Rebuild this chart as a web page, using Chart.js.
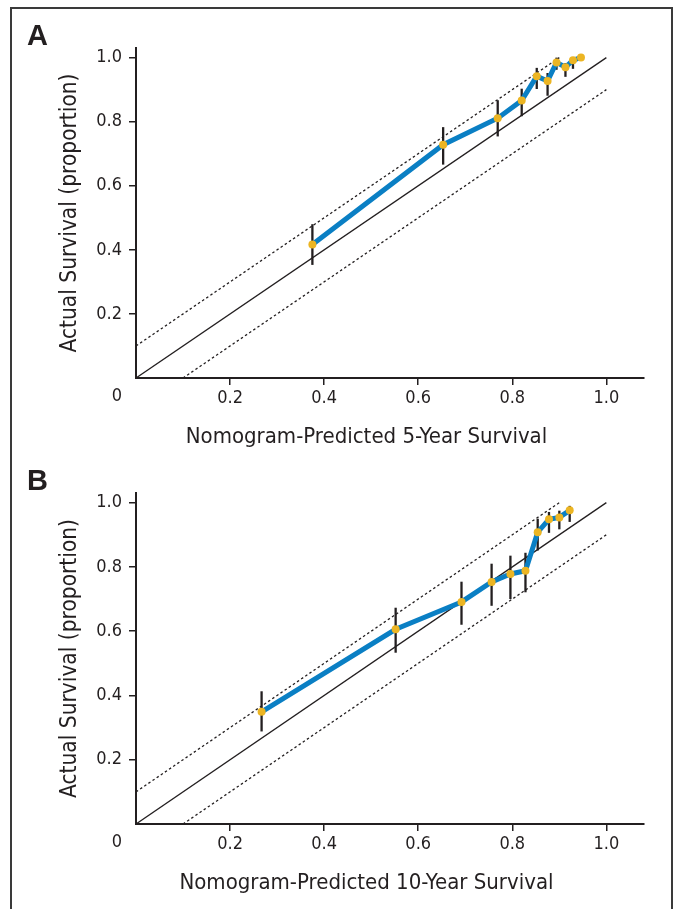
<!DOCTYPE html>
<html>
<head>
<meta charset="utf-8">
<script src="https://cdn.jsdelivr.net/npm/chart.js@4.4.1/dist/chart.umd.min.js"></script>
<style>
  html, body { margin: 0; padding: 0; background: #fff; }
  #wrap { position: relative; width: 679px; height: 909px; overflow: hidden; }
  #wrap canvas { position: absolute; left: 0; top: 0; }
  #frame { position: absolute; left: 10px; top: 7px; width: 663px; height: 940px;
           border: 2px solid #3a3a3a; box-sizing: border-box; }
</style>
</head>
<body>
<div id="wrap">
  <div id="frame"></div>
  <canvas id="chartA" width="679" height="909"></canvas>
  <canvas id="chartB" width="679" height="909"></canvas>
</div>
<script>
// ---- data ----
const xTicks = [0.2, 0.4, 0.6, 0.8, 1.0];
const yTicks = [0.2, 0.4, 0.6, 0.8, 1.0];

// panel A: 5-year
const predA   = [0.375, 0.653, 0.769, 0.820, 0.852, 0.875, 0.894, 0.913, 0.929, 0.946];
const actualA = [0.417, 0.728, 0.811, 0.866, 0.942, 0.927, 0.985, 0.970, 0.992, 1.000];
const lowerA  = [0.353, 0.666, 0.754, 0.817, 0.902, 0.881, 0.962, 0.940, 0.965, 1.000];
const upperA  = [0.480, 0.783, 0.867, 0.903, 0.968, 0.952, 1.000, 0.983, 1.000, 1.000];

// panel B: 10-year
const predB   = [0.267, 0.552, 0.692, 0.756, 0.796, 0.828, 0.854, 0.878, 0.900, 0.922];
const actualB = [0.349, 0.606, 0.691, 0.753, 0.778, 0.788, 0.908, 0.948, 0.954, 0.976];
const lowerB  = [0.288, 0.533, 0.620, 0.679, 0.700, 0.721, 0.851, 0.906, 0.917, 0.940];
const upperB  = [0.413, 0.673, 0.754, 0.810, 0.835, 0.844, 0.950, 0.971, 0.975, 0.990];

// ideal line and +/-10% band
const idealX = [0, 1];     const idealY = [0, 1];
const upBandX = [0, 0.9];  const upBandY = [0.1, 1];
const loBandX = [0.1, 1];  const loBandY = [0, 0.9];

const INK = '#231f20';
const BLUE = '#0a7fc4';
const GOLD = '#ecb523';
const FONT = "'Liberation Sans Narrow', 'DejaVu Sans Condensed', 'Liberation Sans', sans-serif";

const pts = (xs, ys) => xs.map((x, i) => ({ x: x, y: ys[i] }));

// vertical error bars, drawn under the lines
const errorBars = {
  id: 'errorBars',
  beforeDatasetsDraw(chart, args, opts) {
    const { ctx, scales: { x, y } } = chart;
    ctx.save();
    ctx.strokeStyle = INK;
    ctx.lineWidth = 2.3;
    opts.pred.forEach((p, i) => {
      if (opts.lower[i] === opts.upper[i]) return;
      const px = x.getPixelForValue(p);
      ctx.beginPath();
      ctx.moveTo(px, y.getPixelForValue(opts.lower[i]));
      ctx.lineTo(px, y.getPixelForValue(opts.upper[i]));
      ctx.stroke();
    });
    ctx.restore();
  }
};

// panel letter, the shared "0" at the origin and the x-axis title
const annot = {
  id: 'annot',
  afterDraw(chart, args, opts) {
    const { ctx, chartArea, scales: { x } } = chart;
    ctx.save();
    ctx.fillStyle = INK;
    ctx.font = "bold 29px 'Liberation Sans', Arial, sans-serif";
    ctx.textAlign = 'left';
    ctx.textBaseline = 'alphabetic';
    ctx.fillText(opts.letter, 27, chartArea.top - 3);

    ctx.font = '18px ' + FONT;
    ctx.textAlign = 'center';
    ctx.textBaseline = 'middle';
    ctx.fillText('0', x.left - 19, chartArea.bottom + 18);

    ctx.font = '22px ' + FONT;
    ctx.fillText(opts.xTitle, x.getPixelForValue(0.49), chartArea.bottom + 59);
    ctx.restore();
  }
};

function makePanel(id, letter, xTitle, pred, actual, lower, upper, padTop, padBottom) {
  return new Chart(document.getElementById(id), {
    type: 'scatter',
    data: {
      datasets: [
        {
          data: pts(pred, actual), showLine: true,
          borderColor: BLUE, borderWidth: 5,
          pointRadius: 4, pointHoverRadius: 4,
          pointBackgroundColor: GOLD, pointBorderWidth: 0
        },
        { data: pts(idealX, idealY), showLine: true, borderColor: INK, borderWidth: 1.3, pointRadius: 0 },
        { data: pts(upBandX, upBandY), showLine: true, borderColor: INK, borderWidth: 1.3, borderDash: [2.5, 2.5], pointRadius: 0 },
        { data: pts(loBandX, loBandY), showLine: true, borderColor: INK, borderWidth: 1.3, borderDash: [2.5, 2.5], pointRadius: 0 }
      ]
    },
    options: {
      responsive: false,
      animation: false,
      devicePixelRatio: 1,
      layout: { padding: { left: 57, right: 35, top: padTop, bottom: padBottom } },
      plugins: {
        legend: { display: false },
        tooltip: { enabled: false },
        errorBars: { pred: pred, lower: lower, upper: upper },
        annot: { letter: letter, xTitle: xTitle }
      },
      scales: {
        x: {
          type: 'linear', min: 0, max: 1.08,
          afterBuildTicks: s => { s.ticks = xTicks.map(v => ({ value: v })); },
          afterFit: s => { s.height = 75; },
          ticks: {
            color: INK, padding: 3, maxRotation: 0, autoSkip: false,
            font: { family: FONT, size: 18 },
            callback: v => v.toFixed(1)
          },
          grid: { drawOnChartArea: false, drawTicks: true, tickLength: 7, color: INK, lineWidth: 1.5 },
          border: { display: true, color: INK, width: 2 }
        },
        y: {
          type: 'linear', min: 0, max: 1.03,
          afterBuildTicks: s => { s.ticks = yTicks.map(v => ({ value: v })); },
          afterFit: s => { s.width = 79; },
          ticks: {
            color: INK, padding: 7,
            font: { family: FONT, size: 18 },
            callback: v => v.toFixed(1)
          },
          grid: { drawOnChartArea: false, drawTicks: true, tickLength: 7, color: INK, lineWidth: 1.5 },
          border: { display: true, color: INK, width: 2 },
          title: {
            display: true, text: 'Actual Survival (proportion)', color: INK,
            padding: 0, font: { family: FONT, size: 22.5, lineHeight: 1.2 }
          }
        }
      }
    },
    plugins: [errorBars, annot]
  });
}

makePanel('chartA', 'A', 'Nomogram-Predicted 5-Year Survival',
  predA, actualA, lowerA, upperA, 48, 456);
makePanel('chartB', 'B', 'Nomogram-Predicted 10-Year Survival',
  predB, actualB, lowerB, upperB, 493, 10);
</script>
</body>
</html>
